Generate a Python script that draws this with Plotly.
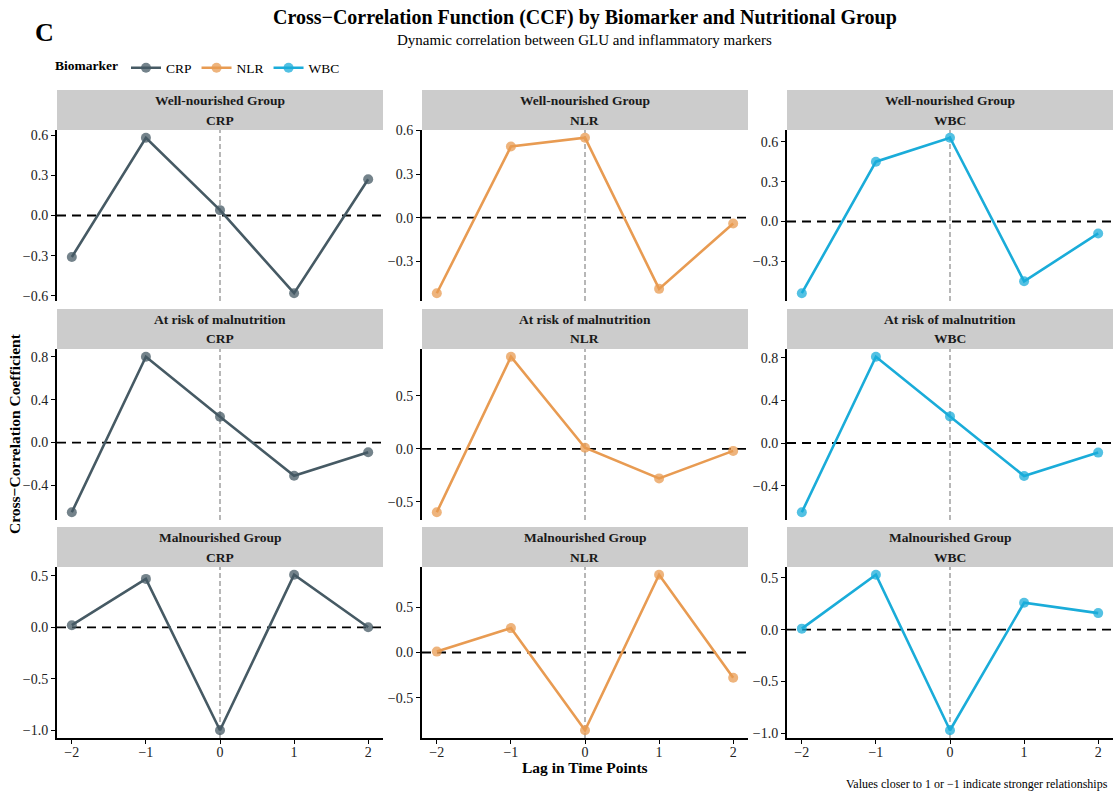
import plotly.graph_objects as go

W, H = 1113, 794
FONT = "Liberation Serif"

# Lags (time points) and facet labels
lags = [-2, -1, 0, 1, 2]
groups = ["Well-nourished Group", "At risk of malnutrition", "Malnourished Group"]
biomarkers = ["CRP", "NLR", "WBC"]

# Cross-correlation coefficients, GLU vs. each marker, by nutritional group
wn_crp = [-0.31, 0.58, 0.04, -0.58, 0.27]
wn_nlr = [-0.52, 0.49, 0.55, -0.49, -0.04]
wn_wbc = [-0.54, 0.45, 0.63, -0.45, -0.09]
ar_crp = [-0.65, 0.80, 0.24, -0.31, -0.09]
ar_nlr = [-0.60, 0.87, 0.01, -0.28, -0.02]
ar_wbc = [-0.65, 0.81, 0.25, -0.31, -0.09]
mn_crp = [0.02, 0.47, -1.00, 0.51, 0.00]
mn_nlr = [0.01, 0.27, -0.86, 0.86, -0.28]
mn_wbc = [0.01, 0.53, -0.97, 0.26, 0.16]

ccf = [
    [wn_crp, wn_nlr, wn_wbc],
    [ar_crp, ar_nlr, ar_wbc],
    [mn_crp, mn_nlr, mn_wbc],
]

colors = {"CRP": "#465A64", "NLR": "#E89B52", "WBC": "#1AACD9"}
ytick_step = [[0.3, 0.3, 0.3], [0.4, 0.5, 0.4], [0.5, 0.5, 0.5]]

# Panel geometry in pixels
col_x = [(57, 383), (422, 748), (787, 1113)]
row_strip = [(90, 130), (309, 349), (527, 567)]
row_plot = [(130, 301), (349, 520), (567, 738)]


def px_x(p):
    return p / W


def px_y(p):
    return 1 - p / H


fig = go.Figure()
shapes = []
annotations = []
layout = {}

for r, grp in enumerate(groups):
    for c, bm in enumerate(biomarkers):
        k = r * 3 + c + 1
        xa = "xaxis" if k == 1 else f"xaxis{k}"
        ya = "yaxis" if k == 1 else f"yaxis{k}"
        xr = "x" if k == 1 else f"x{k}"
        yr = "y" if k == 1 else f"y{k}"
        vals = ccf[r][c]
        lo, hi = min(vals), max(vals)
        pad = (hi - lo) * 0.05
        bottom = r == 2

        layout[xa] = dict(
            domain=[px_x(col_x[c][0]), px_x(col_x[c][1])],
            anchor=yr,
            range=[-2.2, 2.2],
            tickvals=lags,
            showticklabels=bottom,
            ticks="outside" if bottom else "",
            ticklen=4,
            tickwidth=1,
            tickcolor="black",
            ticklabelstandoff=-4,
            showline=bottom,
            linecolor="black",
            linewidth=2,
            showgrid=False,
            zeroline=False,
            automargin=False,
            tickfont=dict(family=FONT, size=14, color="#222"),
        )
        layout[ya] = dict(
            domain=[px_y(row_plot[r][1]), px_y(row_plot[r][0])],
            anchor=xr,
            range=[lo - pad, hi + pad],
            tick0=0,
            dtick=ytick_step[r][c],
            tickformat=".1f",
            ticks="outside",
            ticklen=4,
            tickwidth=1,
            tickcolor="black",
            showline=True,
            linecolor="black",
            linewidth=2,
            showgrid=False,
            zeroline=False,
            automargin=False,
            tickfont=dict(family=FONT, size=14, color="#222"),
        )

        fig.add_trace(go.Scatter(
            x=lags, y=vals, xaxis=xr, yaxis=yr,
            mode="lines+markers",
            name=bm, legendgroup=bm, showlegend=(r == 0),
            line=dict(color=colors[bm], width=2.6),
            marker=dict(color=colors[bm], size=10, opacity=0.75),
            hoverinfo="skip",
        ))

        # vertical reference at lag 0
        shapes.append(dict(
            type="line", xref=xr, yref=f"{yr} domain",
            x0=0, x1=0, y0=0, y1=1,
            line=dict(color="#999999", width=1.4, dash="5px,3px"),
            layer="below",
        ))
        # horizontal reference at zero correlation
        shapes.append(dict(
            type="line", xref=f"{xr} domain", yref=yr,
            x0=0, x1=1, y0=0, y1=0,
            line=dict(color="black", width=1.8, dash="9px,6px"),
            layer="below",
        ))
        # strip background
        shapes.append(dict(
            type="rect", xref="paper", yref="paper",
            x0=px_x(col_x[c][0]), x1=px_x(col_x[c][1]),
            y0=px_y(row_strip[r][1]), y1=px_y(row_strip[r][0]),
            fillcolor="#CCCCCC", line=dict(width=0), layer="below",
        ))
        cx = px_x((col_x[c][0] + col_x[c][1]) / 2)
        for text, dy in ((grp, 10.5), (bm, 30)):
            annotations.append(dict(
                xref="paper", yref="paper",
                x=cx, y=px_y(row_strip[r][0] + dy),
                text=f"<b>{text}</b>",
                showarrow=False, xanchor="center", yanchor="middle",
                font=dict(family=FONT, size=13.5, color="#1a1a1a"),
            ))

# Titles and labels
annotations += [
    dict(xref="paper", yref="paper", x=px_x(585), y=px_y(17),
         text="<b>Cross\u2212Correlation Function (CCF) by Biomarker and Nutritional Group</b>",
         showarrow=False, xanchor="center", yanchor="middle",
         font=dict(family=FONT, size=20, color="black")),
    dict(xref="paper", yref="paper", x=px_x(585), y=px_y(40),
         text="Dynamic correlation between GLU and inflammatory markers",
         showarrow=False, xanchor="center", yanchor="middle",
         font=dict(family=FONT, size=15, color="black")),
    dict(xref="paper", yref="paper", x=px_x(33), y=px_y(33),
         text="<b>C</b>", showarrow=False, xanchor="left", yanchor="middle",
         font=dict(family=FONT, size=26, color="black")),
    dict(xref="paper", yref="paper", x=px_x(585), y=px_y(767),
         text="<b>Lag in Time Points</b>", showarrow=False,
         xanchor="center", yanchor="middle",
         font=dict(family=FONT, size=15.5, color="black")),
    dict(xref="paper", yref="paper", x=px_x(14), y=px_y(434),
         text="<b>Cross\u2212Correlation Coefficient</b>", showarrow=False,
         textangle=-90, xanchor="center", yanchor="middle",
         font=dict(family=FONT, size=15.5, color="black")),
    dict(xref="paper", yref="paper", x=px_x(1110), y=px_y(784),
         text="Values closer to 1 or \u22121 indicate stronger relationships",
         showarrow=False, xanchor="right", yanchor="middle",
         font=dict(family=FONT, size=12, color="black")),
]

fig.update_layout(
    width=W, height=H,
    margin=dict(l=0, r=0, t=0, b=0, autoexpand=False),
    paper_bgcolor="white", plot_bgcolor="white",
    font=dict(family=FONT, color="black"),
    shapes=shapes, annotations=annotations,
    legend=dict(
        orientation="h", x=px_x(53), y=px_y(68),
        xanchor="left", yanchor="middle",
        title=dict(text="<b>Biomarker</b>", font=dict(family=FONT, size=13.5)),
        font=dict(family=FONT, size=13.5), itemwidth=30,
        bgcolor="rgba(0,0,0,0)",
    ),
    **layout,
)

fig.write_html("out.html")
